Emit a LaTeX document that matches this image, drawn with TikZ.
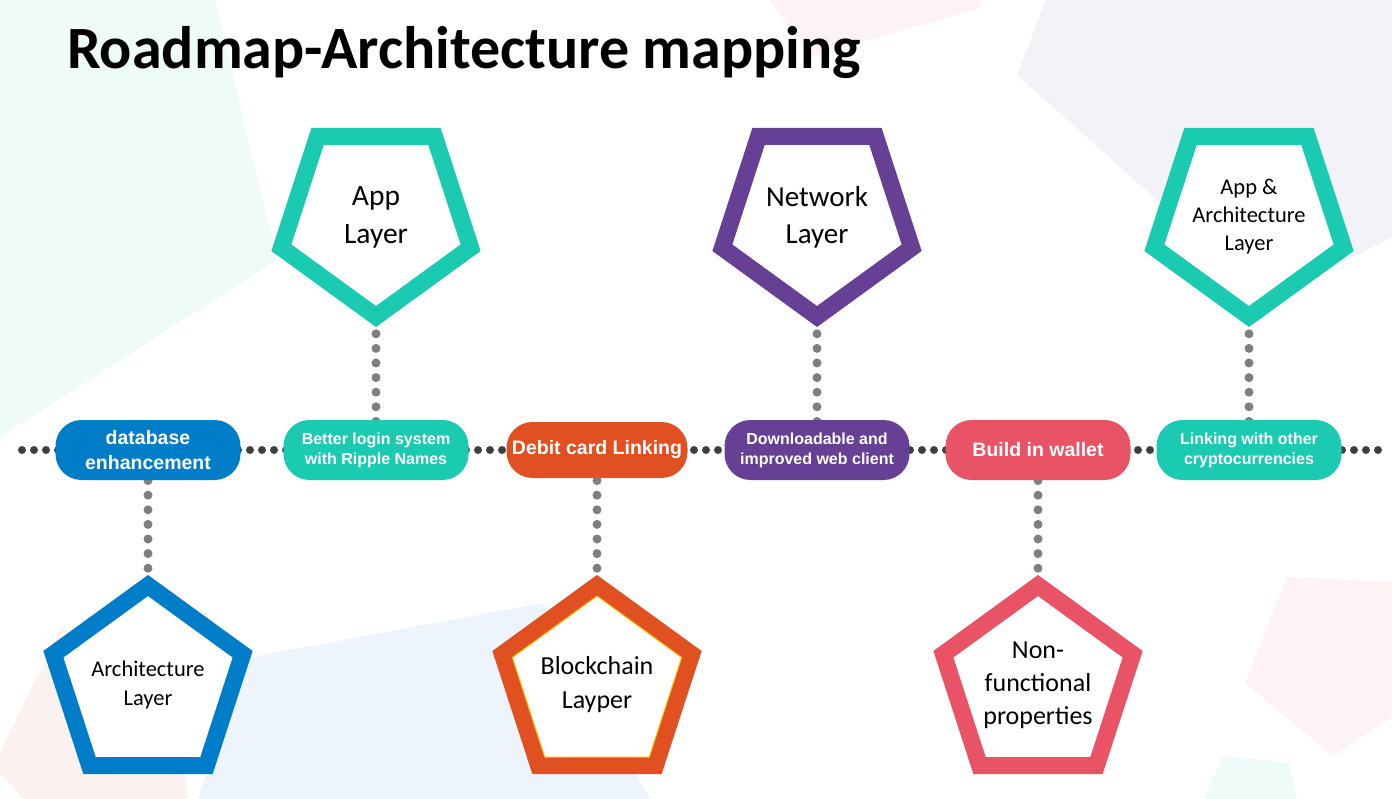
\documentclass[tikz,border=0pt]{standalone}
\usepackage{fontspec}
\setmainfont{Carlito}
\newfontfamily\pillfont{Liberation Sans}
\usetikzlibrary{shapes.geometric}
\pgfdeclarelayer{bg}
\pgfdeclarelayer{lines}
\pgfsetlayers{bg,lines,main}
\definecolor{appteal}{RGB}{27,203,177}
\definecolor{archblue}{RGB}{0,125,201}
\definecolor{chainorange}{RGB}{224,80,32}
\definecolor{netpurple}{RGB}{102,64,148}
\definecolor{nfpink}{RGB}{232,84,102}
\definecolor{dotdark}{RGB}{64,64,64}
\definecolor{dotgray}{RGB}{127,127,127}
\definecolor{rimgold}{RGB}{255,192,0}
\definecolor{bgmint}{RGB}{238,251,248}
\definecolor{bgpink}{RGB}{253,243,244}
\definecolor{bglav}{RGB}{243,242,247}
\definecolor{bgblue}{RGB}{237,244,251}
\definecolor{bgrose}{RGB}{252,242,240}
\begin{document}
\begin{tikzpicture}[x=1pt,y=-1pt,
  pent/.style={regular polygon,regular polygon sides=5,minimum size=199pt,inner sep=0pt,outer sep=0pt,
    line width=17pt,fill=white,align=center},
  pentdown/.style={pent,shape border rotate=180},
  pill/.style={rectangle,rounded corners=26pt,minimum width=185pt,minimum height=60pt,inner sep=0pt,
    text=white,align=center,font=\pillfont\bfseries\fontsize{16}{20}\selectfont},
  bigpill/.style={pill,font=\pillfont\bfseries\fontsize{19.5}{25}\selectfont},
  tdots/.style={draw=dotdark,line width=8pt,line cap=round,dash pattern=on 0pt off 12pt},
  vdots/.style={draw=dotgray,line width=9pt,line cap=round,dash pattern=on 0pt off 14.6pt}]
  \useasboundingbox (0,0) rectangle (1392,799);
  \begin{pgfonlayer}{bg}
    \fill[white] (0,0) rectangle (1392,799);
    % faint shapes behind everything
    \fill[bgmint] (0,0) -- (215,0) -- (277,260) -- (0,437) -- cycle;
    \fill[bgpink] (770,0) -- (980,0) -- (980,8) -- (810,57) -- cycle;
    \fill[bglav] (1046,0) -- (1392,0) -- (1392,237) -- (1269,300) -- (1017,75) -- cycle;
    \fill[bgblue] (198,799) -- (247,658) -- (543,603) -- (650,799) -- cycle;
    \fill[bgrose] (60,630) -- (175,640) -- (185,773) -- (188,799) -- (23,799) -- (0,773) -- (0,753) -- cycle;
    \fill[bgpink] (1287,577) -- (1392,582) -- (1392,717) -- (1333,756) -- (1245,683) -- cycle;
    \fill[bgmint] (1223,756) -- (1289,763) -- (1297,799) -- (1204,799) -- cycle;
  \end{pgfonlayer}

  \node[anchor=base west,inner sep=0pt,font=\bfseries\fontsize{60}{70}\selectfont] (title) at (67,69)
    {Roadmap-Architecture mapping};

  % layers
  \node[pentdown,draw=appteal,font=\fontsize{29.5}{38}\selectfont] (app) at (376,217) {App\\Layer};
  \node[pentdown,draw=netpurple,font=\fontsize{29}{37}\selectfont] (net) at (817,217) {Network\\Layer};
  \node[pentdown,draw=appteal,font=\fontsize{22.5}{28}\selectfont] (apparch) at (1249,217)
    {App \&\\Architecture\\Layer};
  \node[pent,draw=archblue,font=\fontsize{22.5}{29}\selectfont] (arch) at (148,685) {Architecture\\Layer};
  \node[pent,draw=chainorange,font=\fontsize{26}{34}\selectfont] (chain) at (597,685) {Blockchain\\Layper};
  \node[regular polygon,regular polygon sides=5,minimum size=178pt,inner sep=0pt,draw=rimgold,line width=1pt]
    (chainrim) at (chain.center) {};
  \node[pent,draw=nfpink,font=\fontsize{26}{33}\selectfont] (nonfunc) at (1038,685)
    {Non-\\functional\\properties};

  % roadmap items
  \node[bigpill,fill=archblue] (dbase) at (148,450) {database\\enhancement};
  \node[pill,fill=appteal] (login) at (376,450) {Better login system\\with Ripple Names};
  \node[bigpill,fill=chainorange,minimum width=181pt,minimum height=56pt] (debit) at (597,450) {Debit card Linking};
  \node[pill,fill=netpurple] (webclient) at (817,450) {Downloadable and\\improved web client};
  \node[bigpill,fill=nfpink] (wallet) at (1038,450) {Build in wallet};
  \node[pill,fill=appteal] (crypto) at (1249,450) {Linking with other\\cryptocurrencies};

  \coordinate (tlstart) at (22,450);
  \coordinate (tlend) at (1378,450);
  \begin{pgfonlayer}{lines}
    \draw[tdots] (tlstart) -- (tlend);
    \foreach \a/\b in {app/login,net/webclient,apparch/crypto,arch/dbase,chain/debit,nonfunc/wallet} {
      \draw[vdots] (\a.center) -- (\b.center);
    }
  \end{pgfonlayer}
\end{tikzpicture}
\end{document}
